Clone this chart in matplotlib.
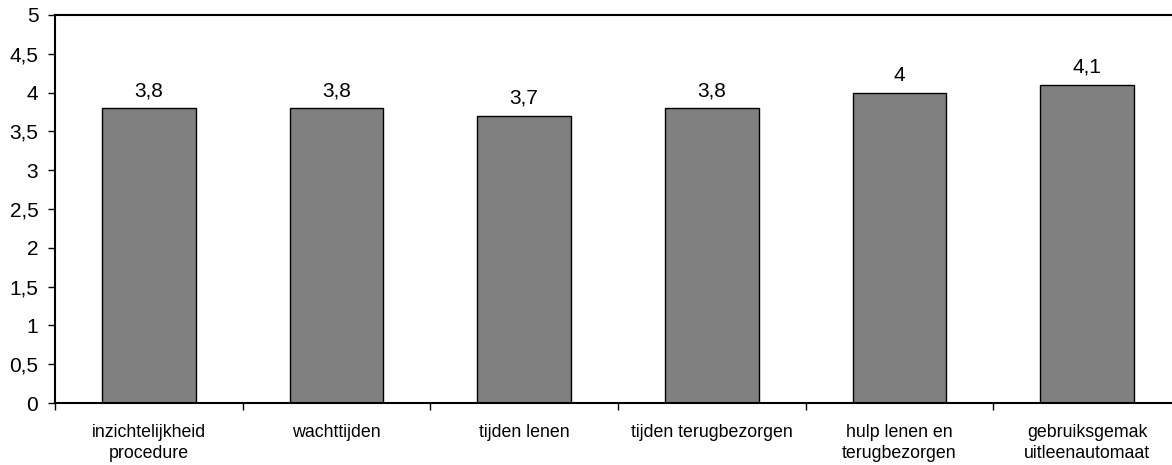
import matplotlib
matplotlib.use('Agg')
import matplotlib.pyplot as plt
import numpy as np

plt.rcParams['font.family'] = ['Liberation Sans', 'DejaVu Sans']

categories = ['inzichtelijkheid\nprocedure', 'wachttijden', 'tijden lenen',
              'tijden terugbezorgen', 'hulp lenen en\nterugbezorgen',
              'gebruiksgemak\nuitleenautomaat']
scores = [3.8, 3.8, 3.7, 3.8, 4.0, 4.1]
y_ticks = [0, 0.5, 1, 1.5, 2, 2.5, 3, 3.5, 4, 4.5, 5]


def nl(v):
    # Dutch notation: comma as decimal separator
    s = f'{v:g}'
    return s.replace('.', ',')


fig = plt.figure(figsize=(11.72, 4.65), dpi=100)
ax = fig.add_axes([55 / 1172, 1 - 403 / 465, (1181 - 55) / 1172, 388 / 465])

x = np.arange(len(categories))
bars = ax.bar(x, scores, width=0.5, color='#808080', edgecolor='black', linewidth=1)

for xi, v in zip(x, scores):
    ax.text(xi, v + 0.155, nl(v), ha='center', va='baseline', fontsize=15)

ax.set_xlim(-0.5, len(categories) - 0.5)
ax.set_ylim(0, 5)
ax.set_yticks(y_ticks)
ax.set_yticklabels([nl(t) for t in y_ticks], fontsize=15)

# category labels sit between boundary ticks
ax.set_xticks(x)
ax.set_xticklabels(categories, fontsize=12.8, linespacing=1.35)
ax.tick_params(axis='x', which='major', length=0, pad=15)
ax.set_xticks(np.arange(len(categories) + 1) - 0.5, minor=True)
ax.tick_params(axis='x', which='minor', length=5, width=1, direction='out')
ax.tick_params(axis='y', length=5, width=1, direction='out', pad=7)

ax.spines['right'].set_visible(False)
for s in ['left', 'bottom', 'top']:
    ax.spines[s].set_linewidth(1.5)

fig.savefig('out.png', dpi=100)
